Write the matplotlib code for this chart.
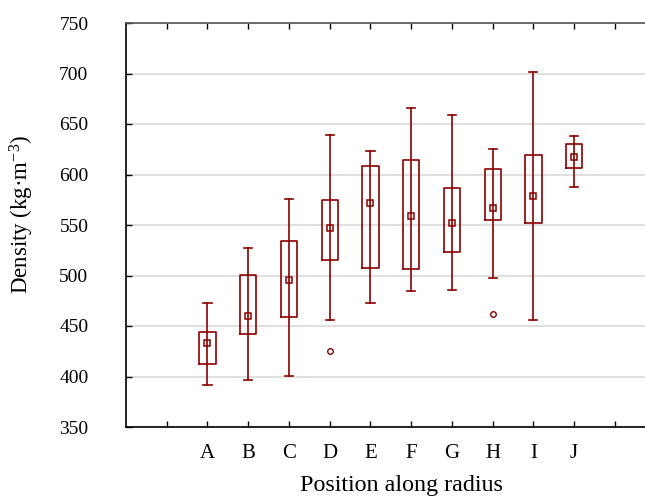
import matplotlib
matplotlib.use("Agg")
import matplotlib.pyplot as plt
import numpy as np

categories = ["A", "B", "C", "D", "E", "F", "G", "H", "I", "J"]
means      = [432.7, 459.7, 495.9, 547.0, 571.3, 559.2, 551.9, 566.4, 578.6, 617.8]
box_low    = [412.0, 441.6, 459.0, 515.7, 507.4, 506.8, 523.6, 554.5, 551.6, 606.3]
box_high   = [443.9, 500.2, 533.8, 575.0, 608.6, 614.1, 586.5, 605.2, 619.4, 630.0]
whisk_low  = [391.8, 396.8, 400.7, 456.4, 473.2, 484.7, 485.4, 497.5, 455.7, 587.8]
whisk_high = [473.2, 526.9, 576.0, 638.8, 623.0, 665.5, 659.3, 625.0, 701.1, 637.9]
outliers   = [[], [], [], [425.4], [], [], [], [461.7], [], []]
positions  = list(range(2, 12))

color = "#8b0000"
plt.rcParams["font.family"] = ["Liberation Serif", "DejaVu Serif"]
plt.rcParams["mathtext.fontset"] = "custom"
plt.rcParams["mathtext.rm"] = "Liberation Serif"
plt.rcParams["mathtext.it"] = "Liberation Serif:italic"
plt.rcParams["mathtext.bf"] = "Liberation Serif:bold"

fig = plt.figure(figsize=(6.45, 5.04), dpi=100)
ax = fig.add_axes([126/645, 77/504, 550/645, 404/504])

stats = []
for i in range(len(categories)):
    stats.append(dict(med=means[i], mean=means[i], q1=box_low[i], q3=box_high[i],
                      whislo=whisk_low[i], whishi=whisk_high[i], fliers=outliers[i]))

ax.bxp(stats, positions=positions, widths=0.4, capwidths=0.2, showmeans=True,
       boxprops=dict(color=color, lw=1.2),
       whiskerprops=dict(color=color, lw=1.2),
       capprops=dict(color=color, lw=1.2),
       medianprops=dict(lw=0),
       meanprops=dict(marker="s", markersize=5, markerfacecolor="none",
                      markeredgecolor=color, markeredgewidth=1.1),
       flierprops=dict(marker="o", markersize=4, markerfacecolor="none",
                       markeredgecolor=color, markeredgewidth=1.0),
       manage_ticks=False, zorder=3)
# vertical line through the box
ax.vlines(positions, box_low, box_high, color=color, lw=1.2, zorder=3)

ax.set_xlim(0, 13.5)
ax.set_ylim(350, 750)
ax.set_yticks(np.arange(350, 751, 50))
ax.set_xticks(range(1, 14))
ax.set_xticklabels([""] + categories + ["", ""])
ax.grid(axis="y", color="#dcdcdc", lw=1.3, zorder=0)
ax.set_axisbelow(True)

ax.tick_params(axis="both", direction="in", length=4, width=1, colors="black")
ax.tick_params(axis="x", top=True, labelsize=15, pad=12)
ax.tick_params(axis="y", labelsize=14, pad=27)
for s in ["left", "bottom"]:
    ax.spines[s].set_linewidth(1.2)
    ax.spines[s].set_color("black")
ax.spines["top"].set_color("#555555")
ax.spines["top"].set_linewidth(1.2)
ax.spines["right"].set_visible(False)

ax.set_xlabel("Position along radius", fontsize=17.3, labelpad=9)
ax.set_ylabel("Density (kg·m$^{-3}$)", fontsize=16.5)
ax.yaxis.set_label_coords(-0.163, 0.527)

fig.savefig("out.png", dpi=100)
